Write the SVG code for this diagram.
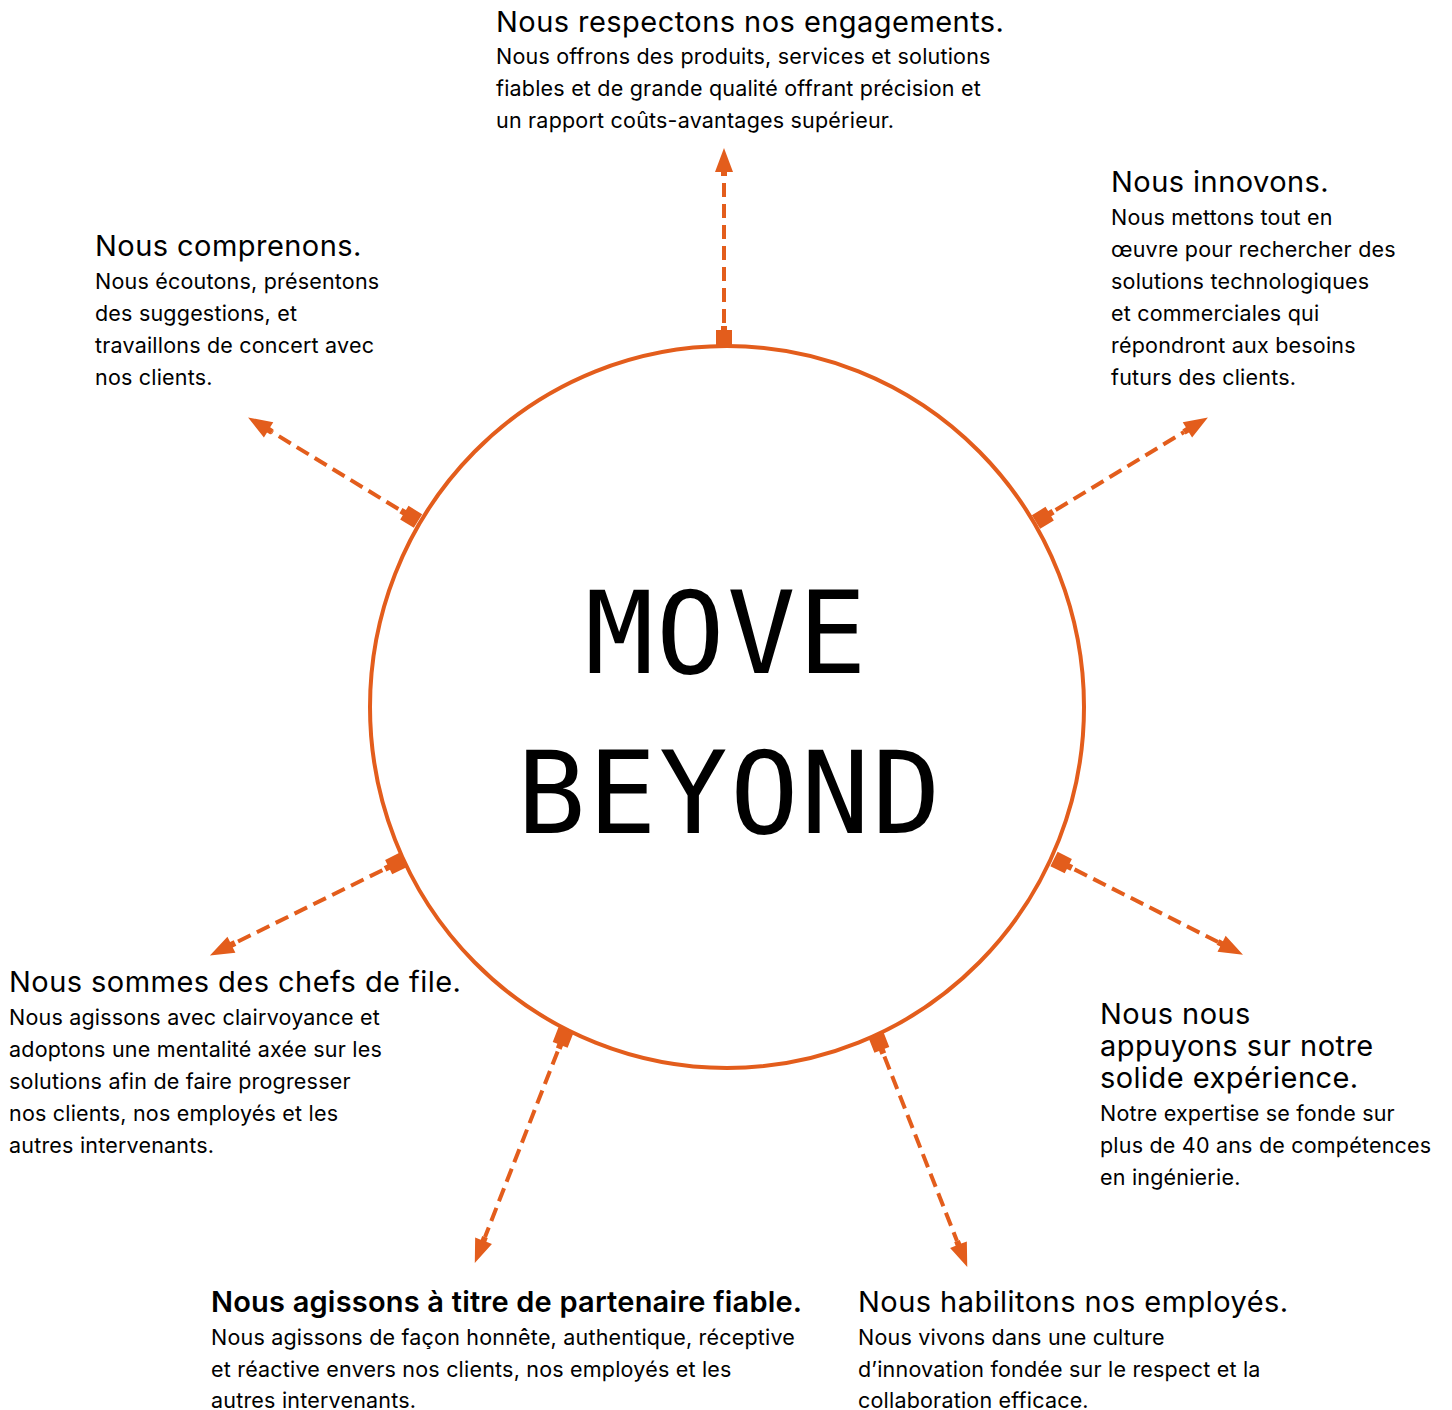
<svg xmlns="http://www.w3.org/2000/svg" width="1452" height="1410" viewBox="0 0 1452 1410">
<style>
.h{font-family:Inter,"Liberation Sans",sans-serif;font-size:29px;letter-spacing:0.45px;fill:#000}
.hb{font-family:Inter,"Liberation Sans",sans-serif;font-size:29px;font-weight:600;letter-spacing:0.2px;fill:#000}
.b{font-family:Inter,"Liberation Sans",sans-serif;font-size:21.5px;letter-spacing:0.2px;fill:#000}
.mono{font-family:"DejaVu Sans Mono",monospace;font-size:114px;letter-spacing:2.4px;fill:#000;text-anchor:middle}
.c{fill:none;stroke:#E35D1C;stroke-width:4;stroke-dasharray:14 7;stroke-dashoffset:-2;marker-start:url(#sq);marker-end:url(#ah)}
</style>
<defs>
<marker id="sq" markerUnits="userSpaceOnUse" orient="auto" refX="0" refY="0" markerWidth="30" markerHeight="30" overflow="visible">
<path d="M0,-8 H16 V-3 H20 V3 H16 V8 H0 Z" fill="#E35D1C"/>
</marker>
<marker id="ah" markerUnits="userSpaceOnUse" orient="auto" refX="0" refY="0" markerWidth="30" markerHeight="30" overflow="visible">
<path d="M0,-3 H4 V-9 L28,0 L4,9 V3 H0 Z" fill="#E35D1C"/>
</marker>
</defs>
<rect width="1452" height="1410" fill="#fff"/>
<g id="center">
<ellipse cx="727" cy="707" rx="357" ry="361" fill="none" stroke="#E35D1C" stroke-width="4"/>
<text class="mono" x="727" y="673">MOVE</text>
<text class="mono" x="730" y="833">BEYOND</text>
</g>
<g id="connectors">
<line class="c" x1="724" y1="346" x2="724" y2="176"/>
<line class="c" x1="418" y1="521" x2="272" y2="432"/>
<line class="c" x1="1036" y1="522" x2="1184" y2="432"/>
<line class="c" x1="403" y1="860" x2="235" y2="943"/>
<line class="c" x1="1054" y1="859" x2="1218" y2="942"/>
<line class="c" x1="566" y1="1030" x2="485" y2="1237"/>
<line class="c" x1="876" y1="1035" x2="957" y2="1241"/>
</g>
<g id="engagements">
<text class="h" x="496" y="32">Nous respectons nos engagements.</text>
<text class="b" x="496" y="64">Nous offrons des produits, services et solutions</text>
<text class="b" x="496" y="96">fiables et de grande qualité offrant précision et</text>
<text class="b" x="496" y="128">un rapport coûts-avantages supérieur.</text>
</g>
<g id="comprenons">
<text class="h" x="95" y="256">Nous comprenons.</text>
<text class="b" x="95" y="289">Nous écoutons, présentons</text>
<text class="b" x="95" y="321">des suggestions, et</text>
<text class="b" x="95" y="353">travaillons de concert avec</text>
<text class="b" x="95" y="385">nos clients.</text>
</g>
<g id="innovons">
<text class="h" x="1111" y="192">Nous innovons.</text>
<text class="b" x="1111" y="225">Nous mettons tout en</text>
<text class="b" x="1111" y="257">œuvre pour rechercher des</text>
<text class="b" x="1111" y="289">solutions technologiques</text>
<text class="b" x="1111" y="321">et commerciales qui</text>
<text class="b" x="1111" y="353">répondront aux besoins</text>
<text class="b" x="1111" y="385">futurs des clients.</text>
</g>
<g id="chefs">
<text class="h" x="9" y="992">Nous sommes des chefs de file.</text>
<text class="b" x="9" y="1025">Nous agissons avec clairvoyance et</text>
<text class="b" x="9" y="1057">adoptons une mentalité axée sur les</text>
<text class="b" x="9" y="1089">solutions afin de faire progresser</text>
<text class="b" x="9" y="1121">nos clients, nos employés et les</text>
<text class="b" x="9" y="1153">autres intervenants.</text>
</g>
<g id="experience">
<text class="h" x="1100" y="1024">Nous nous</text>
<text class="h" x="1100" y="1056">appuyons sur notre</text>
<text class="h" x="1100" y="1088">solide expérience.</text>
<text class="b" x="1100" y="1121">Notre expertise se fonde sur</text>
<text class="b" x="1100" y="1153">plus de 40 ans de compétences</text>
<text class="b" x="1100" y="1185">en ingénierie.</text>
</g>
<g id="partenaire">
<text class="hb" x="211" y="1312">Nous agissons à titre de partenaire fiable.</text>
<text class="b" x="211" y="1345">Nous agissons de façon honnête, authentique, réceptive</text>
<text class="b" x="211" y="1377">et réactive envers nos clients, nos employés et les</text>
<text class="b" x="211" y="1408">autres intervenants.</text>
</g>
<g id="employes">
<text class="h" x="858" y="1312">Nous habilitons nos employés.</text>
<text class="b" x="858" y="1345">Nous vivons dans une culture</text>
<text class="b" x="858" y="1377">d’innovation fondée sur le respect et la</text>
<text class="b" x="858" y="1408">collaboration efficace.</text>
</g>
</svg>
